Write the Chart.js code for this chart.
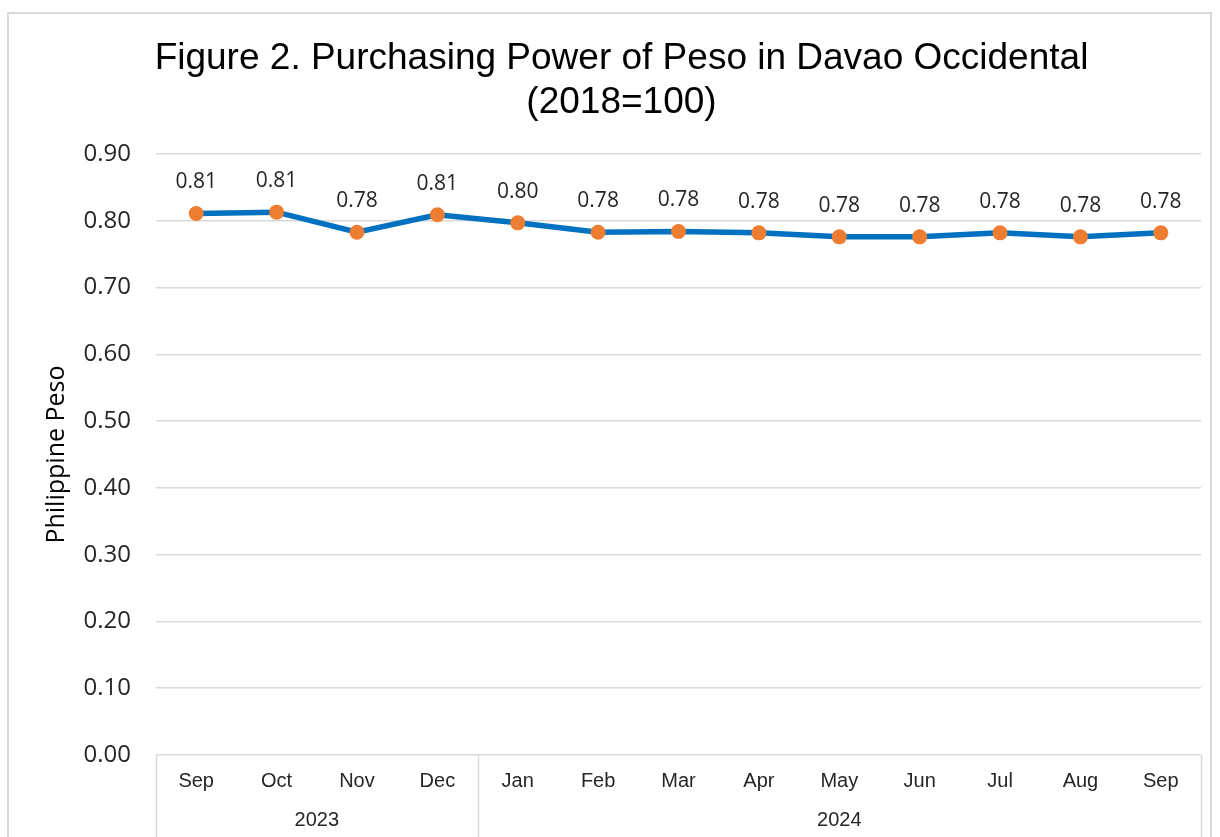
<!DOCTYPE html>
<html>
<head>
  <title>Purchasing Power of Peso</title>
  <script src="https://cdn.jsdelivr.net/npm/chart.js@4.4.0/dist/chart.umd.min.js"></script>
  <style>
    body { margin: 0; background: #fff; }
    #frame { position: absolute; left: 7px; top: 12px; width: 1201px; height: 900px; border: 2px solid #d9d9d9; }
    #wrap { position: absolute; left: 0; top: 0; width: 1220px; height: 837px; }
  </style>
</head>
<body>
  <div id="frame"></div>
  <div id="wrap"><canvas id="ppChart" width="1220" height="837"></canvas></div>

  <script>
    // months along the axis and the year each one belongs to
    var months = ['Sep', 'Oct', 'Nov', 'Dec', 'Jan', 'Feb', 'Mar', 'Apr', 'May', 'Jun', 'Jul', 'Aug', 'Sep'];
    var monthYear = ['2023', '2023', '2023', '2023', '2024', '2024', '2024', '2024', '2024', '2024', '2024', '2024', '2024'];
    var years = ['2023', '2024'];
    // purchasing power values
    var ppp = [0.811, 0.813, 0.783, 0.809, 0.797, 0.783, 0.784, 0.782, 0.776, 0.776, 0.782, 0.776, 0.782];
    var yTicks = [0, 0.1, 0.2, 0.3, 0.4, 0.5, 0.6, 0.7, 0.8, 0.9];

    // point value labels above each marker
    var valueLabels = {
      id: 'valueLabels',
      afterDatasetsDraw: function(chart) {
        var c = chart.ctx;
        var meta = chart.getDatasetMeta(0);
        c.save();
        c.font = '21px "Open Sans", sans-serif';
        c.fillStyle = '#262626';
        c.textAlign = 'center';
        c.textBaseline = 'middle';
        meta.data.forEach(function(pt, i) {
          c.fillText(ppp[i].toFixed(2), pt.x, pt.y - 31);
        });
        c.restore();
      }
    };

    // year row and separators under the month labels
    var yearAxis = {
      id: 'yearAxis',
      afterDraw: function(chart) {
        var c = chart.ctx;
        var xs = chart.scales.x;
        var area = chart.chartArea;
        var half = (xs.getPixelForValue(1) - xs.getPixelForValue(0)) / 2;
        c.save();
        c.strokeStyle = '#d9d9d9';
        c.lineWidth = 1.5;
        c.font = '20px "Liberation Sans", Arial, sans-serif';
        c.fillStyle = '#262626';
        c.textAlign = 'center';
        c.textBaseline = 'middle';
        var edges = [area.left];
        years.forEach(function(yr) {
          var first = monthYear.indexOf(yr);
          var last = monthYear.lastIndexOf(yr);
          var x0 = xs.getPixelForValue(first) - half;
          var x1 = xs.getPixelForValue(last) + half;
          edges.push(x1);
          c.fillText(yr, (x0 + x1) / 2, area.bottom + 65);
        });
        edges.forEach(function(x) {
          c.beginPath();
          c.moveTo(Math.round(x) + 0.5, area.bottom);
          c.lineTo(Math.round(x) + 0.5, 837);
          c.stroke();
        });
        c.restore();
      }
    };

    var ctx = document.getElementById('ppChart').getContext('2d');
    var chart = new Chart(ctx, {
      type: 'line',
      data: {
        labels: months,
        datasets: [{
          data: ppp,
          borderColor: '#0070C0',
          borderWidth: 5.5,
          pointBackgroundColor: '#ED7D31',
          pointBorderColor: '#ED7D31',
          pointRadius: 7.5,
          pointBorderWidth: 0,
          tension: 0,
          fill: false
        }]
      },
      options: {
        responsive: false,
        animation: false,
        layout: { padding: { left: 42, right: 19, top: 0, bottom: 0 } },
        plugins: {
          legend: { display: false },
          tooltip: { enabled: false },
          title: {
            display: true,
            text: ['Figure 2. Purchasing Power of Peso in Davao Occidental', '(2018=100)'],
            color: '#000',
            font: { family: '"Liberation Sans", Arial, sans-serif', size: 37, weight: 'normal', lineHeight: 1.19 },
            padding: { top: 37, bottom: 29 }
          }
        },
        scales: {
          x: {
            offset: true,
            grid: { display: false },
            border: { display: false },
            ticks: {
              color: '#262626',
              font: { family: '"Liberation Sans", Arial, sans-serif', size: 20 },
              padding: 6,
              maxRotation: 0
            },
            afterFit: function(s) { s.height = 82; }
          },
          y: {
            min: 0,
            max: 0.9,
            afterBuildTicks: function(s) { s.ticks = yTicks.map(function(v) { return { value: v }; }); },
            grid: { color: '#d9d9d9', lineWidth: 1.5, drawTicks: false },
            border: { display: false },
            ticks: {
              color: '#262626',
              font: { family: '"Open Sans", sans-serif', size: 24 },
              padding: 25,
              callback: function(v) { return Number(v).toFixed(2); }
            },
            title: {
              display: true,
              text: 'Philippine Peso',
              color: '#000',
              font: { family: '"Open Sans", sans-serif', size: 25 },
              padding: { top: 0, bottom: 0 }
            },
            afterFit: function(s) { s.width = 114; }
          }
        }
      },
      plugins: [valueLabels, yearAxis]
    });
  </script>
</body>
</html>
